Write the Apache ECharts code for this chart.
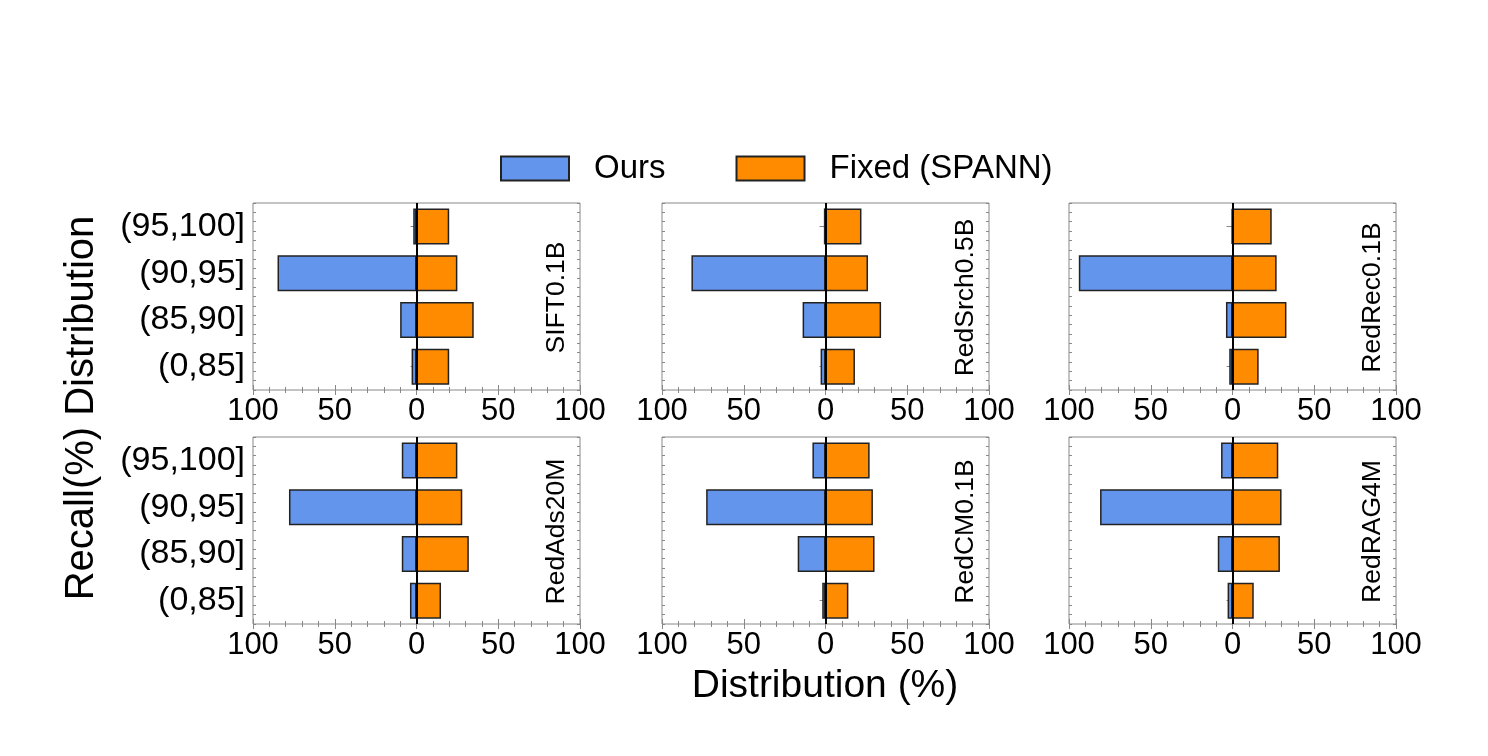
<!DOCTYPE html>
<html>
<head>
<meta charset="utf-8">
<script src="https://cdn.jsdelivr.net/npm/echarts@6/dist/echarts.min.js"></script>
<style>
  html, body { margin: 0; padding: 0; background: #fff; }
  #main { width: 1488px; height: 756px; }
</style>
</head>
<body>
<div id="main"></div>
<script>
// 召回率分布对比图：6 个数据集，左侧 Ours 右侧 Fixed (SPANN)
var myChart = echarts.init(document.getElementById('main'));

// 纵轴类别（自下而上）
var categories = ['(0,85]', '(85,90]', '(90,95]', '(95,100]'];
var datasetNames = ['SIFT0.1B', 'RedSrch0.5B', 'RedRec0.1B', 'RedAds20M', 'RedCM0.1B', 'RedRAG4M'];

// 各数据集的分布 (%)，与 categories 顺序一致
var oursSift = [3, 10, 85, 2];
var fixedSift = [20, 35, 25, 20];
var oursSrch = [3, 14, 82, 1];
var fixedSrch = [18, 34, 26, 22];
var oursRec = [2, 4, 94, 0.5];
var fixedRec = [16, 33, 27, 24];
var oursAds = [4, 9, 78, 9];
var fixedAds = [15, 32, 28, 25];
var oursCM = [2, 17, 73, 8];
var fixedCM = [14, 30, 29, 27];
var oursRAG = [3, 9, 81, 7];
var fixedRAG = [13, 29, 30, 28];

var oursAll = [oursSift, oursSrch, oursRec, oursAds, oursCM, oursRAG];
var fixedAll = [fixedSift, fixedSrch, fixedRec, fixedAds, fixedCM, fixedRAG];

// 横轴刻度
var xMin = -100, xMax = 100, xStep = 50;

var FONT = '"Liberation Sans", Arial, sans-serif';
var frameColor = '#888';
var blue = '#6495ED', orange = '#FF8C00';

var lefts = [253, 662, 1069];
var tops = [203, 437];
var gw = 327, gh = 187;

var grids = [], xAxes = [], yAxes = [], series = [], graphics = [];

function tickAxisX(g, pos, showLabel) {
    return {
        type: 'value', gridIndex: g, position: pos,
        min: xMin, max: xMax, interval: xStep,
        axisLine: { show: false },
        axisTick: { show: true, inside: true, length: 5, lineStyle: { color: frameColor } },
        minorTick: { show: true, splitNumber: 5, length: 3, lineStyle: { color: frameColor } },
        splitLine: { show: false },
        axisLabel: {
            show: showLabel, margin: 6, color: '#000', fontSize: 31, fontFamily: FONT,
            formatter: function (v) { return Math.abs(v); }
        }
    };
}

function tickAxisY(g, pos) {
    return {
        type: 'value', gridIndex: g, position: pos,
        min: 0, max: 20, interval: 1,
        axisLine: { show: false },
        axisLabel: { show: false },
        splitLine: { show: false },
        axisTick: { show: true, inside: true, length: 3, lineStyle: { color: frameColor } }
    };
}

function catAxisY(g, pos, showLabel) {
    return {
        type: 'category', gridIndex: g, position: pos, data: categories,
        axisLine: { show: false },
        axisTick: { show: true, inside: true, alignWithLabel: true, length: 6, lineStyle: { color: frameColor } },
        splitLine: { show: false },
        axisLabel: { show: showLabel, margin: 8, color: '#000', fontSize: 34, fontFamily: FONT, padding: [4, 0, 0, 0] }
    };
}

for (var i = 0; i < 6; i++) {
    var row = Math.floor(i / 3), col = i % 3;
    grids.push({
        left: lefts[col], top: tops[row], width: gw, height: gh,
        show: true, borderColor: frameColor, borderWidth: 1, backgroundColor: 'transparent'
    });
    xAxes.push(tickAxisX(i, 'bottom', true));
    xAxes.push(tickAxisX(i, 'top', false));
    var yBase = yAxes.length;
    yAxes.push(catAxisY(i, 'left', col === 0));
    yAxes.push(catAxisY(i, 'right', false));
    yAxes.push(tickAxisY(i, 'left'));
    yAxes.push(tickAxisY(i, 'right'));

    series.push({
        name: 'Ours', type: 'bar',
        xAxisIndex: 2 * i, yAxisIndex: yBase,
        barWidth: 36, barGap: '-100%',
        itemStyle: { color: blue, borderColor: '#222', borderWidth: 1.5 },
        data: oursAll[i].map(function (v) { return -v; })
    });
    series.push({
        name: 'Fixed (SPANN)', type: 'bar',
        xAxisIndex: 2 * i, yAxisIndex: yBase,
        barWidth: 36, barGap: '-100%',
        itemStyle: { color: orange, borderColor: '#222', borderWidth: 1.5 },
        data: fixedAll[i],
        markLine: {
            silent: true, symbol: ['none', 'none'], label: { show: false },
            lineStyle: { color: '#000', width: 2, type: 'solid' },
            data: [{ xAxis: 0 }]
        }
    });

    graphics.push({
        type: 'text',
        x: lefts[col] + gw - 23, y: tops[row] + gh / 2 + 1,
        rotation: Math.PI / 2,
        style: {
            text: datasetNames[i], font: '26.5px ' + FONT, fill: '#000',
            textAlign: 'center', textVerticalAlign: 'middle'
        }
    });
}

graphics.push({
    type: 'text', x: 825, y: 686,
    style: { text: 'Distribution (%)', font: '39px ' + FONT, fill: '#000', textAlign: 'center', textVerticalAlign: 'middle' }
});
graphics.push({
    type: 'text', x: 82, y: 408, rotation: Math.PI / 2,
    style: { text: 'Recall(%) Distribution', font: '40px ' + FONT, fill: '#000', textAlign: 'center', textVerticalAlign: 'middle' }
});

var option = {
    animation: false,
    backgroundColor: '#fff',
    legend: {
        data: ['Ours', 'Fixed (SPANN)'],
        left: 495, top: 147,
        itemWidth: 68, itemHeight: 24, itemGap: 70,
        icon: 'rect',
        textStyle: { color: '#000', fontSize: 33, fontFamily: FONT, padding: [0, 0, 0, 20] }
    },
    grid: grids,
    xAxis: xAxes,
    yAxis: yAxes,
    series: series,
    graphic: graphics
};

myChart.setOption(option);
</script>
</body>
</html>
